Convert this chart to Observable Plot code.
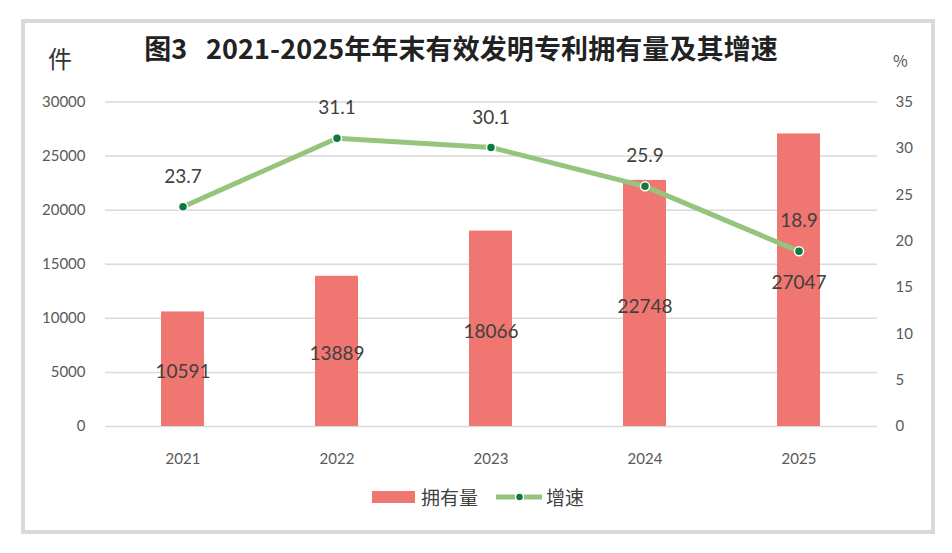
<!DOCTYPE html>
<html>
<head>
<meta charset="utf-8">
<script src="https://cdn.jsdelivr.net/npm/d3@7"></script>
<script src="https://cdn.jsdelivr.net/npm/@observablehq/plot@0.6"></script>
<style>
  html, body { margin: 0; padding: 0; background: #fff; }
  #wrap { position: relative; width: 952px; height: 553px; overflow: hidden; background: #fff; }
  #frame { position: absolute; left: 21px; top: 19px; width: 906px; height: 507px; border: 4px solid #d9d9d9; box-sizing: content-box; }
  .txt { position: absolute; font-family: "Noto Sans CJK SC", sans-serif; color: #333; white-space: nowrap; line-height: 1; }
  #title { left: 0; width: 922px; top: 34px; text-align: center; font-size: 27px; font-weight: bold; color: #222; letter-spacing: 0.1px; }
  #unitL { left: 48px; top: 46px; font-size: 24px; color: #333; }
  #unitR { left: 893px; top: 52px; font-size: 16px; color: #555; }
  #legend { position: absolute; top: 483px; left: 372px; display: flex; align-items: center; font-family: "Noto Sans CJK SC", sans-serif; font-size: 19px; color: #404040; }
  #plot { position: absolute; left: 0; top: 0; }
</style>
</head>
<body>
<div id="wrap">
  <div id="frame"></div>
  <div id="plot"></div>
  <div class="txt" id="title">图3&nbsp;&nbsp;&nbsp;2021-2025年年末有效发明专利拥有量及其增速</div>
  <div class="txt" id="unitL">件</div>
  <div class="txt" id="unitR">%</div>
  <div id="legend">
    <svg width="44" height="14"><rect x="0" y="1" width="43" height="12" fill="#F07672"></rect></svg>
    <span style="margin-left:5px">拥有量</span>
    <svg width="48" height="14" style="margin-left:18px"><line x1="0" x2="19" y1="7" y2="7" stroke="#93C47D" stroke-width="5"></line><line x1="28" x2="46" y1="7" y2="7" stroke="#93C47D" stroke-width="5"></line><circle cx="23.5" cy="7" r="4" fill="#0E7A3C" stroke="#fff" stroke-width="1.5"></circle></svg>
    <span style="margin-left:2px">增速</span>
  </div>
</div>
<script>
const years = ["2021", "2022", "2023", "2024", "2025"];
const holdings = [10591, 13889, 18066, 22748, 27047];
const growth = [23.7, 31.1, 30.1, 25.9, 18.9];
const leftTicks = [0, 5000, 10000, 15000, 20000, 25000, 30000];
const rightTicks = [0, 5, 10, 15, 20, 25, 30, 35];

const leftMax = 30000;
const rightMax = 35;
const toLeft = v => v * leftMax / rightMax;

const data = years.map((y, i) => ({
  year: y,
  count: holdings[i],
  half: holdings[i] / 2,
  rate: growth[i],
  rateY: toLeft(growth[i])
}));

const chart = Plot.plot({
  width: 952,
  height: 553,
  marginLeft: 105,
  marginRight: 75,
  marginTop: 101.5,
  marginBottom: 127,
  style: { fontFamily: "Lato, 'Open Sans', sans-serif", fontSize: "15px", color: "#595959", background: "transparent" },
  x: { type: "band", domain: years, paddingInner: 0.72, paddingOuter: 0.36, label: null },
  y: { domain: [0, leftMax], label: null },
  marks: [
    Plot.ruleY(leftTicks, { stroke: "#d9d9d9", strokeWidth: 1.5 }),
    Plot.axisY(leftTicks, { anchor: "left", tickSize: 0, tickPadding: 20, label: null, fontSize: 15, fill: "#595959", tickFormat: d => String(d) }),
    Plot.axisY(rightTicks.map(toLeft), { anchor: "right", tickSize: 0, tickPadding: 18, label: null, fontSize: 15, fill: "#595959", tickFormat: d => String(Math.round(d * rightMax / leftMax)) }),
    Plot.axisX({ tickSize: 0, tickPadding: 27, label: null, fontSize: 15, fill: "#595959" }),
    Plot.barY(data, { x: "year", y: "count", fill: "#F07672" }),
    Plot.text(data, { x: "year", y: "half", text: d => String(d.count), dy: 3, fontSize: 19, fill: "#404040" }),
    Plot.line(data, { x: "year", y: "rateY", stroke: "#95C57C", strokeWidth: 5 }),
    Plot.dot(data, { x: "year", y: "rateY", r: 4.5, fill: "#0E7A3C", stroke: "#fff", strokeWidth: 1.5 }),
    Plot.text(data, { x: "year", y: "rateY", text: d => d.rate.toFixed(1), dy: -30, fontSize: 19, fill: "#404040" })
  ]
});
document.getElementById("plot").appendChild(chart);
</script>
</body>
</html>
